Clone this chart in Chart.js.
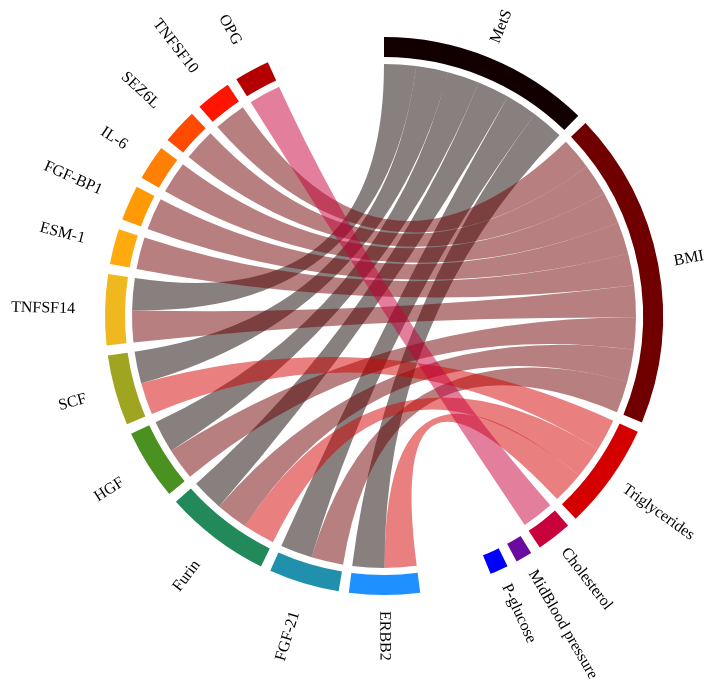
<!DOCTYPE html>
<html>
<head>
<meta charset="utf-8">
<script src="https://cdn.jsdelivr.net/npm/chart.js@4.4.1/dist/chart.umd.min.js"></script>
<style>
html,body{margin:0;padding:0;background:#ffffff;}
#wrap{width:716px;height:698px;position:relative;}
canvas{display:block;}
.pre{font-family:"Liberation Serif";position:absolute;left:-9999px;top:0;}
</style>
</head>
<body>
<span class="pre">Aa</span>
<div id="wrap"><canvas id="c" width="716" height="698"></canvas></div>
<script>
// ---- sectors (clockwise from 12 o'clock) ----
const sectorNames = ["MetS","BMI","Triglycerides","Cholesterol","MidBlood pressure","P-glucose",
  "ERBB2","FGF-21","Furin","HGF","SCF","TNFSF14","ESM-1","FGF-BP1","IL-6","SEZ6L","TNFSF10","OPG"];
const sectorColors = ["#120000","#700000","#d40000","#c8003c","#6a0aa0","#0000ff",
  "#1e90ff","#2090ac","#21895a","#4a9121","#9fa520","#efb81e","#ffab10","#ff9a05","#ff8005","#ff4a00","#ff1400","#b40000"];
// sectors that carry no ribbon but still get a small block
const unlinkedNames = ["MidBlood pressure","P-glucose"];
const unlinkedSizes = [0.47, 0.52];

// ---- links (clinical trait -> protein) ----
const linkFrom = ["MetS","MetS","MetS","MetS","MetS","MetS",
  "BMI","BMI","BMI","BMI","BMI","BMI","BMI","BMI","BMI",
  "Triglycerides","Triglycerides","Triglycerides",
  "Cholesterol"];
const linkTo = ["ERBB2","FGF-21","Furin","HGF","SCF","TNFSF14",
  "FGF-21","Furin","HGF","TNFSF14","ESM-1","FGF-BP1","IL-6","SEZ6L","TNFSF10",
  "ERBB2","Furin","SCF",
  "OPG"];
const linkValue = [1,1,1,1,1,1, 1,1,1,1,1,1,1,1,1, 1,1,1, 1];

// ---- gaps (degrees) ----
const smallGap = 2.1;
const bigGapAfter = {"P-glucose":15.0, "OPG":24.6};

// ---- build sector sizes from links ----
const sectorSize = sectorNames.map(n => {
  let s = 0;
  linkFrom.forEach((f,i)=>{ if (f===n) s += linkValue[i]; });
  linkTo.forEach((t,i)=>{ if (t===n) s += linkValue[i]; });
  const u = unlinkedNames.indexOf(n);
  if (u >= 0) s += unlinkedSizes[u];
  return s;
});
const gapDegs = sectorNames.map(n => bigGapAfter[n] !== undefined ? bigGapAfter[n] : smallGap);
const totalGap = gapDegs.reduce((a,b)=>a+b,0);
const totalUnits = sectorSize.reduce((a,b)=>a+b,0);
const degPerUnit = (360 - totalGap) / totalUnits;

const ringData = [], ringColors = [], ringLabels = [];
sectorNames.forEach((n,i)=>{
  ringData.push(sectorSize[i]); ringColors.push(sectorColors[i]); ringLabels.push(n);
  ringData.push(gapDegs[i] / degPerUnit); ringColors.push('rgba(0,0,0,0)'); ringLabels.push('');
});

function hexToRgba(hex, a){
  const h = hex.replace('#','');
  const r = parseInt(h.substr(0,2),16), g = parseInt(h.substr(2,2),16), b = parseInt(h.substr(4,2),16);
  return `rgba(${r},${g},${b},${a})`;
}

const LABEL_FONT = '16px "Liberation Serif"';

const chordPlugin = {
  id: 'chord',
  afterDatasetsDraw(chart){
    const ctx = chart.ctx;
    const meta = chart.getDatasetMeta(0);
    const arcs = sectorNames.map((n,i)=>meta.data[2*i]);
    const cx = arcs[0].x, cy = arcs[0].y;
    const rIn = arcs[0].innerRadius;
    const r = rIn - 7;

    const ends = {};
    sectorNames.forEach((n,si)=>{
      const items = [];
      linkFrom.forEach((f,li)=>{ if (f===n) items.push({li, side:'from', partner: sectorNames.indexOf(linkTo[li])}); });
      linkTo.forEach((t,li)=>{ if (t===n) items.push({li, side:'to', partner: sectorNames.indexOf(linkFrom[li])}); });
      items.sort((a,b)=>b.partner - a.partner);
      const el = arcs[si];
      const span = el.endAngle - el.startAngle;
      let a = el.startAngle;
      items.forEach(it=>{
        const w = span * linkValue[it.li] / sectorSize[si];
        ends[it.li + '-' + it.side] = [a, a + w];
        a += w;
      });
    });

    ctx.save();
    linkFrom.forEach((f,li)=>{
      const A = ends[li+'-from'], B = ends[li+'-to'];
      if (!A || !B) return;
      const col = hexToRgba(sectorColors[sectorNames.indexOf(f)], 0.5);
      ctx.beginPath();
      ctx.arc(cx, cy, r, A[0], A[1]);
      ctx.quadraticCurveTo(cx, cy, cx + r*Math.cos(B[0]), cy + r*Math.sin(B[0]));
      ctx.arc(cx, cy, r, B[0], B[1]);
      ctx.quadraticCurveTo(cx, cy, cx + r*Math.cos(A[0]), cy + r*Math.sin(A[0]));
      ctx.closePath();
      ctx.fillStyle = col;
      ctx.fill();
    });

    ctx.fillStyle = '#000';
    ctx.font = LABEL_FONT;
    ctx.textBaseline = 'middle';
    sectorNames.forEach((n,si)=>{
      const el = arcs[si];
      const m = (el.startAngle + el.endAngle)/2;
      const cw = ((m + Math.PI/2) % (2*Math.PI) + 2*Math.PI) % (2*Math.PI);
      const right = cw < Math.PI;
      const rl = right ? el.outerRadius + 16 : el.outerRadius + 30;
      ctx.save();
      ctx.translate(cx + rl*Math.cos(m), cy + rl*Math.sin(m));
      if (right){ ctx.rotate(m); ctx.textAlign = 'left'; }
      else { ctx.rotate(m + Math.PI); ctx.textAlign = 'right'; }
      ctx.fillText(n, 0, 0);
      ctx.restore();
    });
    ctx.restore();
  }
};

function build(){
  new Chart(document.getElementById('c'), {
    type: 'doughnut',
    data: {
      labels: ringLabels,
      datasets: [{
        data: ringData,
        backgroundColor: ringColors,
        borderWidth: 0,
        hoverOffset: 0
      }]
    },
    options: {
      responsive: false,
      animation: false,
      rotation: 0,
      circumference: 360,
      cutout: 259,
      layout: { padding: { left: 105, right: 53, top: 37, bottom: 103 } },
      plugins: { legend: { display: false }, tooltip: { enabled: false } },
      events: []
    },
    plugins: [chordPlugin]
  });
}
if (document.fonts && document.fonts.load) {
  document.fonts.load(LABEL_FONT).then(build, build);
} else { build(); }
</script>
</body>
</html>
